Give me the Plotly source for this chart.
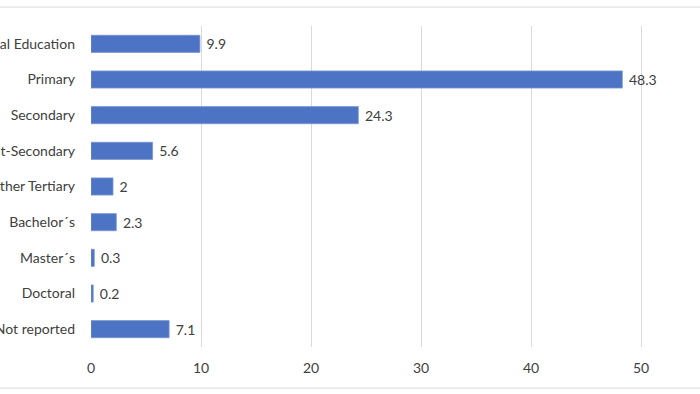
import plotly.graph_objects as go

categories = ["No Formal Education", "Primary", "Secondary", "Post-Secondary",
              "Other Tertiary", "Bachelor´s", "Master´s", "Doctoral", "Not reported"]
values = [9.9, 48.3, 24.3, 5.6, 2, 2.3, 0.3, 0.2, 7.1]
tick_vals = [0, 10, 20, 30, 40, 50]

font = "Lato, 'Open Sans', sans-serif"
txt = "#404040"

fig = go.Figure(go.Bar(
    x=values, y=categories, orientation="h",
    marker=dict(color="#4d74c4", line=dict(color="#7896d3", width=0.8)),
    text=[str(v) for v in values], texttemplate=" %{text}",
    textposition="outside",
    textfont=dict(family=font, size=14, color=txt),
    cliponaxis=False,
))

fig.update_layout(
    width=700, height=394,
    margin=dict(l=91, r=0, t=26, b=47),
    paper_bgcolor="white", plot_bgcolor="white",
    bargap=0.52, showlegend=False,
    font=dict(family=font, size=14, color=txt),
    xaxis=dict(range=[0, 55.36], tickvals=tick_vals, showgrid=True,
               gridcolor="#d9d9d9", gridwidth=1, zeroline=False,
               showline=False, ticks="", ticklabelstandoff=11,
               tickfont=dict(family=font, size=14, color=txt),
               automargin=False, fixedrange=True),
    yaxis=dict(autorange="reversed", showgrid=False, zeroline=False,
               showline=False, ticks="", ticklabelstandoff=15,
               tickfont=dict(family=font, size=14, color=txt),
               automargin=False),
    shapes=[
        dict(type="line", xref="paper", yref="paper", x0=-0.2, x1=1.1,
             y0=1.059, y1=1.059, line=dict(color="#d9d9d9", width=1)),
        dict(type="line", xref="paper", yref="paper", x0=-0.2, x1=1.1,
             y0=-0.128, y1=-0.128, line=dict(color="#d9d9d9", width=1)),
    ],
)

fig.write_html("out.html", config={"displayModeBar": False},
               post_script="document.body.style.margin='0';document.body.style.overflow='hidden';")
